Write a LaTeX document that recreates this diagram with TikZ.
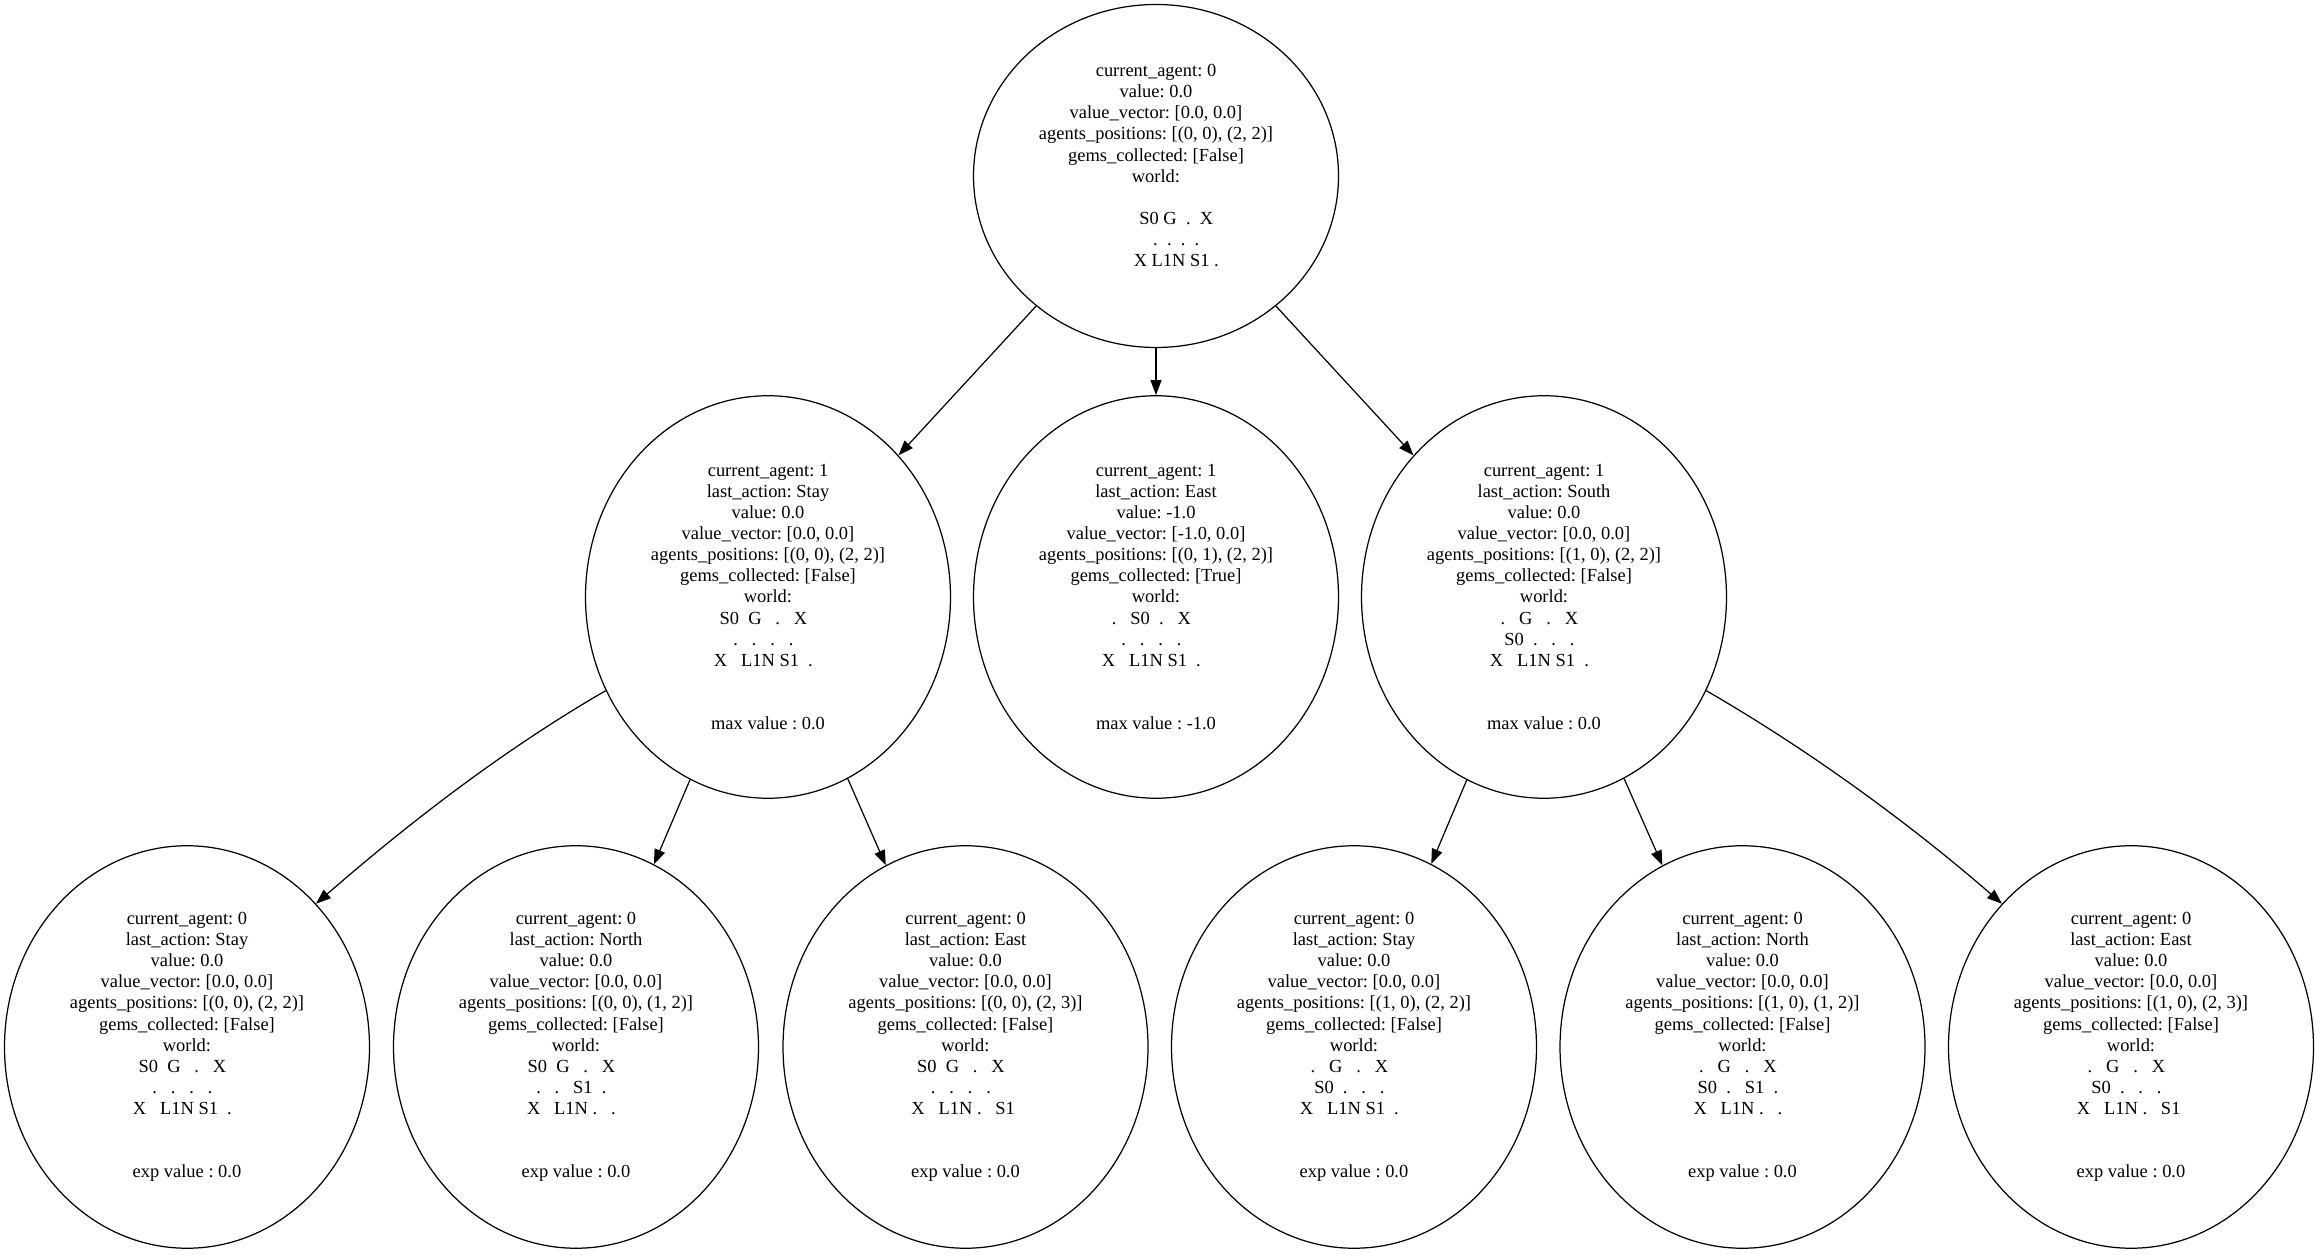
\documentclass[tikz,border=0pt]{standalone}
\usepackage{fontspec}
\setmainfont{Liberation Serif}
\usepackage{tikz}
\usetikzlibrary{shapes.geometric,arrows.meta}

\newcommand{\stateinfo}[6]{current\_agent: #1\\ last\_action: #2\\ value: #3\\ value\_vector: #4\\ agents\_positions: #5\\ gems\_collected: #6\\ world:}

\tikzset{
    gamenode/.style={draw, ellipse, line width=0.7pt, inner sep=0pt, align=center,
        minimum width=7.3cm, minimum height=8.05cm,
        font=\fontsize{10.5}{12}\selectfont\frenchspacing},
    branch/.style={-{Triangle[length=3mm,width=2.2mm]}, line width=0.7pt}
}

\begin{document}
\begin{tikzpicture}
        \useasboundingbox (0, 0) rectangle (46.3, 25.08);

        \node[gamenode, minimum height=6.86cm] (root) at (23.12, 21.56) {current\_agent: 0\\ value: 0.0\\ value\_vector: [0.0, 0.0]\\ agents\_positions: [(0, 0), (2, 2)]\\ gems\_collected: [False]\\ world:\\ \mbox{}\\ \hspace*{2.2em}S0~G~~.~~X\\ \hspace*{2.2em}.~~.~~.~~.\\ \hspace*{2.2em}X~L1N~S1~.\\ \mbox{}};

        \node[gamenode] (stay) at (15.36, 13.14) {\stateinfo{1}{Stay}{0.0}{[0.0, 0.0]}{[(0, 0), (2, 2)]}{[False]}\\ S0~~G~~~.~~~X~~\mbox{}\\ .~~~.~~~.~~~.~~\mbox{}\\ X~~~L1N~S1~~.~~\mbox{}\\ \mbox{}\\ \mbox{}\\ max value : 0.0};
        \node[gamenode] (east) at (23.12, 13.14) {\stateinfo{1}{East}{-1.0}{[-1.0, 0.0]}{[(0, 1), (2, 2)]}{[True]}\\ .~~~S0~~.~~~X~~\mbox{}\\ .~~~.~~~.~~~.~~\mbox{}\\ X~~~L1N~S1~~.~~\mbox{}\\ \mbox{}\\ \mbox{}\\ max value : -1.0};
        \node[gamenode] (south) at (30.88, 13.14) {\stateinfo{1}{South}{0.0}{[0.0, 0.0]}{[(1, 0), (2, 2)]}{[False]}\\ .~~~G~~~.~~~X~~\mbox{}\\ S0~~.~~~.~~~.~~\mbox{}\\ X~~~L1N~S1~~.~~\mbox{}\\ \mbox{}\\ \mbox{}\\ max value : 0.0};

        \node[gamenode] (stayStay) at (3.74, 4.14) {\stateinfo{0}{Stay}{0.0}{[0.0, 0.0]}{[(0, 0), (2, 2)]}{[False]}\\ S0~~G~~~.~~~X~~\mbox{}\\ .~~~.~~~.~~~.~~\mbox{}\\ X~~~L1N~S1~~.~~\mbox{}\\ \mbox{}\\ \mbox{}\\ exp value : 0.0};
        \node[gamenode] (stayNorth) at (11.52, 4.14) {\stateinfo{0}{North}{0.0}{[0.0, 0.0]}{[(0, 0), (1, 2)]}{[False]}\\ S0~~G~~~.~~~X~~\mbox{}\\ .~~~.~~~S1~~.~~\mbox{}\\ X~~~L1N~.~~~.~~\mbox{}\\ \mbox{}\\ \mbox{}\\ exp value : 0.0};
        \node[gamenode] (stayEast) at (19.31, 4.14) {\stateinfo{0}{East}{0.0}{[0.0, 0.0]}{[(0, 0), (2, 3)]}{[False]}\\ S0~~G~~~.~~~X~~\mbox{}\\ .~~~.~~~.~~~.~~\mbox{}\\ X~~~L1N~.~~~S1~\mbox{}\\ \mbox{}\\ \mbox{}\\ exp value : 0.0};
        \node[gamenode] (southStay) at (27.08, 4.14) {\stateinfo{0}{Stay}{0.0}{[0.0, 0.0]}{[(1, 0), (2, 2)]}{[False]}\\ .~~~G~~~.~~~X~~\mbox{}\\ S0~~.~~~.~~~.~~\mbox{}\\ X~~~L1N~S1~~.~~\mbox{}\\ \mbox{}\\ \mbox{}\\ exp value : 0.0};
        \node[gamenode] (southNorth) at (34.85, 4.14) {\stateinfo{0}{North}{0.0}{[0.0, 0.0]}{[(1, 0), (1, 2)]}{[False]}\\ .~~~G~~~.~~~X~~\mbox{}\\ S0~~.~~~S1~~.~~\mbox{}\\ X~~~L1N~.~~~.~~\mbox{}\\ \mbox{}\\ \mbox{}\\ exp value : 0.0};
        \node[gamenode] (southEast) at (42.62, 4.14) {\stateinfo{0}{East}{0.0}{[0.0, 0.0]}{[(1, 0), (2, 3)]}{[False]}\\ .~~~G~~~.~~~X~~\mbox{}\\ S0~~.~~~.~~~.~~\mbox{}\\ X~~~L1N~.~~~S1~\mbox{}\\ \mbox{}\\ \mbox{}\\ exp value : 0.0};

        \draw[branch] (root) -- (stay);
        \draw[branch] (root) -- (east);
        \draw[branch] (root) -- (south);

        \draw[branch] (stay.210) .. controls +(210:2.4) and +(41:2.4) .. (stayStay.48);
        \draw[branch] (stay) -- (stayNorth);
        \draw[branch] (stay) -- (stayEast);

        \draw[branch] (south) -- (southStay);
        \draw[branch] (south) -- (southNorth);
        \draw[branch] (south.330) .. controls +(330:2.4) and +(139:2.4) .. (southEast.132);
    \end{tikzpicture}
\end{document}
